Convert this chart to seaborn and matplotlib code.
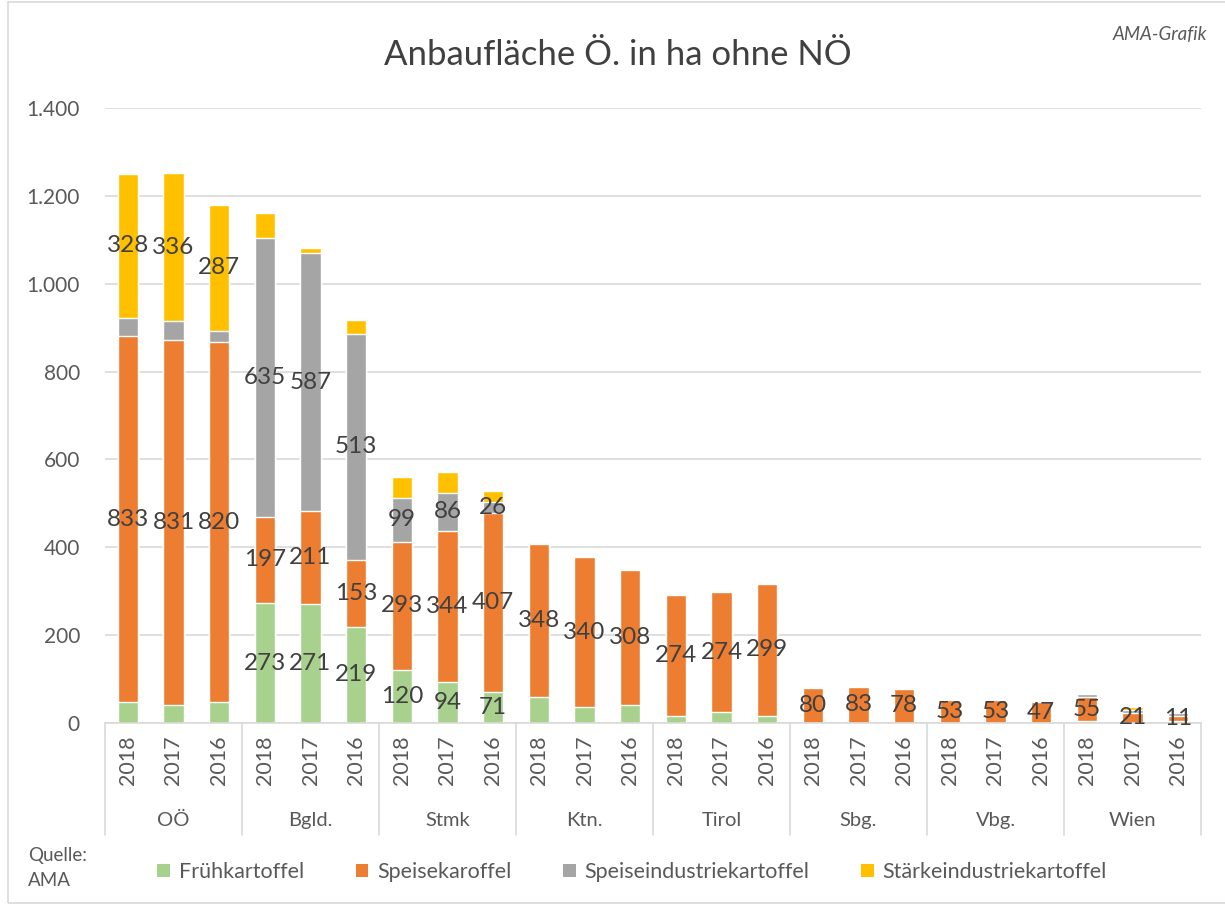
"""Stacked potato acreage by state and year (AMA chart)."""

import matplotlib.pyplot as plt
import matplotlib.transforms as mtransforms
from matplotlib.patches import Patch, Rectangle
from matplotlib.ticker import FuncFormatter, MultipleLocator
import seaborn as sns

REGIONS = ["OÖ", "Bgld.", "Stmk", "Ktn.", "Tirol", "Sbg.", "Vbg.", "Wien"]
YEARS = ["2018", "2017", "2016"]

SERIES = ["Frühkartoffel", "Speisekaroffel", "Speiseindustriekartoffel", "Stärkeindustriekartoffel"]
COLORS = ["#A9D18E", "#ED7D31", "#A5A5A5", "#FFC000"]

# one value per bar, regions in order, years 2018/2017/2016 inside each region
frueh = [47, 41, 47, 273, 271, 219, 120, 94, 71, 60, 37, 41, 17, 24, 17, 0, 0, 0, 0, 0, 0, 4, 1, 4]
speise = [833, 831, 820, 197, 211, 153, 293, 344, 407, 348, 340, 308, 274, 274, 299, 80, 83, 78, 53, 53, 47, 55, 21, 11]
speiseind = [42, 43, 26, 635, 587, 513, 99, 86, 26, 0, 0, 0, 0, 0, 0, 0, 0, 0, 0, 0, 0, 6, 8, 8]
staerke = [328, 336, 287, 57, 13, 33, 48, 48, 23, 0, 0, 0, 0, 0, 0, 0, 0, 0, 0, 0, 0, 3, 6, 0]

# which segments carry a data label in the original
labeled_regions = {
    "Frühkartoffel": ["Bgld.", "Stmk"],
    "Speisekaroffel": REGIONS,
    "Speiseindustriekartoffel": ["Bgld.", "Stmk"],
    "Stärkeindustriekartoffel": ["OÖ"],
}


def main() -> None:
    sns.set_style("white")
    plt.rcParams["font.family"] = ["Lato", "DejaVu Sans"]

    values = [frueh, speise, speiseind, staerke]
    keys = [f"{r} {y}" for r in REGIONS for y in YEARS]
    bar_region = [r for r in REGIONS for _ in YEARS]

    cums = []
    running = [0] * len(keys)
    for vals in values:
        running = [a + b for a, b in zip(running, vals)]
        cums.append(running)

    fig = plt.figure(figsize=(12.25, 9.05), dpi=100)
    ax = fig.add_axes([105 / 1225, 1 - 723 / 905, 1096 / 1225, 615 / 905])

    # draw cumulative totals from the top layer down so each layer shows
    for cum, color in zip(reversed(cums), reversed(COLORS)):
        sns.barplot(x=keys, y=cum, order=keys, color=color, saturation=1,
                    width=0.44, errorbar=None, ax=ax, zorder=2)

    # data labels centred in segments
    for s, name in enumerate(SERIES):
        for i, v in enumerate(values[s]):
            if bar_region[i] not in labeled_regions[name] or v == 0:
                continue
            base = cums[s - 1][i] if s > 0 else 0
            ax.text(i, base + v / 2, f"{v}", ha="center", va="center",
                    fontsize=17.5, color="#404040", zorder=3)

    ax.set_ylim(0, 1400)
    ax.set_xlim(-0.5, len(keys) - 0.5)
    ax.yaxis.set_major_locator(MultipleLocator(200))
    ax.yaxis.set_major_formatter(FuncFormatter(lambda v, _: f"{v:,.0f}".replace(",", ".")))
    ax.yaxis.grid(True, color="#d9d9d9", lw=1.2)
    ax.set_axisbelow(True)
    for side in ["left", "right", "top"]:
        ax.spines[side].set_visible(False)
    ax.spines["bottom"].set_color("#d9d9d9")
    ax.spines["bottom"].set_linewidth(1.2)

    ax.set_xticks(range(len(keys)))
    ax.set_xticklabels(YEARS * len(REGIONS), rotation=90)
    ax.tick_params(axis="x", length=0, pad=9, labelsize=15.5, labelcolor="#595959")
    ax.tick_params(axis="y", length=0, pad=18, labelsize=15, labelcolor="#595959")
    ax.set_xlabel("")
    ax.set_ylabel("")

    # region names and separators under the year labels
    trans = mtransforms.blended_transform_factory(ax.transData, ax.transAxes)
    for b in range(len(REGIONS) + 1):
        x = b * len(YEARS) - 0.5
        ax.plot([x, x], [0, -0.182], transform=trans, color="#d9d9d9", lw=1.2, clip_on=False)
    for g, region in enumerate(REGIONS):
        ax.text(g * len(YEARS) + 1, -0.158, region, transform=trans, ha="center",
                va="center", fontsize=14.5, color="#595959")

    fig.text(618 / 1225, 1 - 55 / 905, "Anbaufläche Ö. in ha ohne NÖ", ha="center",
             va="center", fontsize=25, color="#404040")
    fig.text(1207 / 1225, 1 - 35 / 905, "AMA-Grafik", ha="right", va="center",
             fontsize=13.5, style="italic", color="#595959")
    fig.text(28 / 1225, 1 - 855 / 905, "Quelle:", ha="left", va="center",
             fontsize=13.5, color="#595959")
    fig.text(28 / 1225, 1 - 880 / 905, "AMA", ha="left", va="center",
             fontsize=13.5, color="#595959")

    handles = [Patch(facecolor=c, edgecolor="none", label=n) for n, c in zip(SERIES, COLORS)]
    fig.legend(handles=handles, loc="center", bbox_to_anchor=(632 / 1225, 1 - 872 / 905),
               ncol=4, frameon=False, fontsize=15.5, handlelength=0.6, handleheight=0.6,
               handletextpad=0.4, columnspacing=2.4, labelcolor="#595959")

    fig.patches.append(Rectangle((8 / 1225, 2 / 905), 1.0, 1 - 4 / 905,
                                 transform=fig.transFigure, fill=False,
                                 edgecolor="#d9d9d9", lw=1.2))

    fig.savefig("out.png", dpi=100)
    plt.close(fig)


if __name__ == "__main__":
    main()
